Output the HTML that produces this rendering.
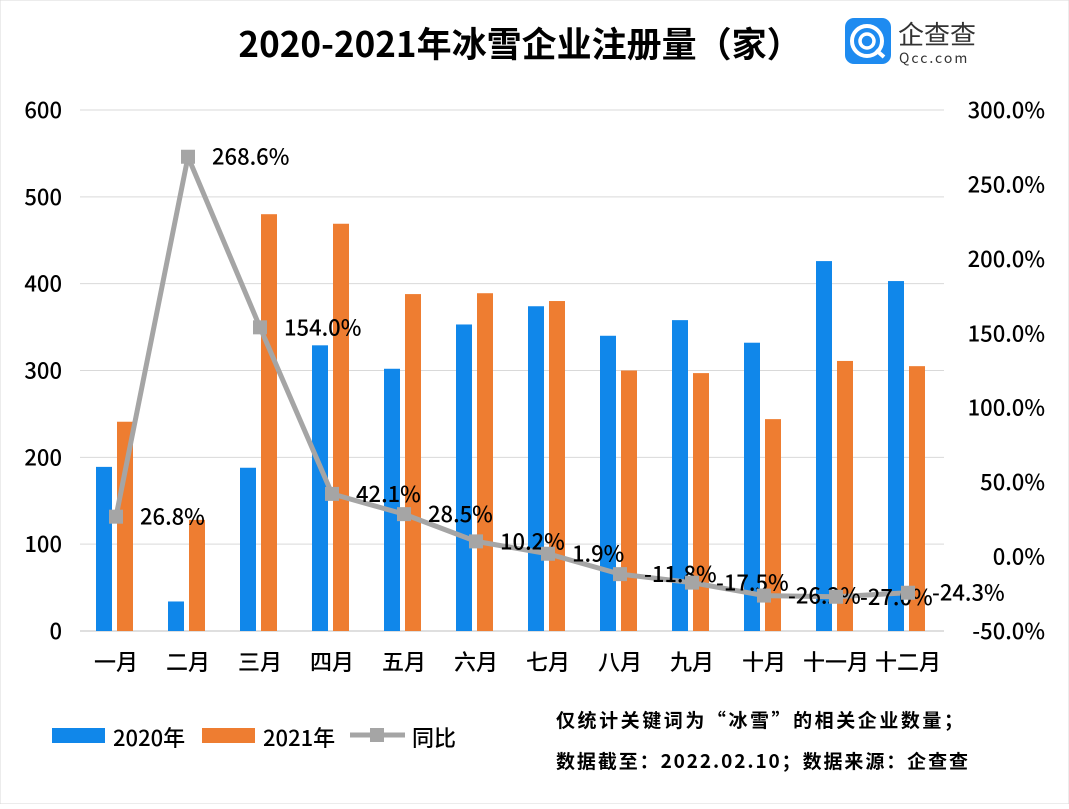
<!DOCTYPE html>
<html><head><meta charset="utf-8"><style>
body{margin:0;background:#fff;width:1069px;height:804px;overflow:hidden;font-family:"Noto Sans CJK SC","Liberation Sans",sans-serif}
svg text{font-family:"Noto Sans CJK SC","Liberation Sans",sans-serif;font-weight:500}
</style></head><body>
<svg id="c" width="1069" height="804">
<rect x="0" y="0" width="1069" height="804" fill="#fff" stroke="#d9d9d9"/>
<text x="520" y="57" font-size="35" style="font-weight:bold" text-anchor="middle" fill="#000">2020-2021年冰雪企业注册量（家）</text>
<g>
<rect x="845" y="18" width="46" height="46" rx="9" fill="#1e8bf0"/>
<circle cx="867" cy="41" r="15" fill="none" stroke="#fff" stroke-width="4"/>
<circle cx="867" cy="41" r="7" fill="none" stroke="#fff" stroke-width="3.5"/>
<line x1="876" y1="50" x2="884" y2="57" stroke="#fff" stroke-width="4"/>
<text x="898" y="44" font-size="26" fill="#333" style="font-weight:400">企查查</text>
<text x="899" y="63" font-size="14" fill="#333" letter-spacing="2" style="font-weight:400">Qcc.com</text>
</g>
<g id="plot"></g>
<g>
<rect x="52" y="728" width="53" height="15" fill="#1087ea"/>
<text x="113" y="746" font-size="22" fill="#000">2020年</text>
<rect x="202" y="728" width="53" height="15" fill="#ee7d31"/>
<text x="263" y="746" font-size="22" fill="#000">2021年</text>
<line x1="350" y1="735" x2="405" y2="735" stroke="#a5a5a5" stroke-width="5"/>
<rect x="370" y="728" width="14" height="14" fill="#a5a5a5"/>
<text x="412" y="746" font-size="22" fill="#000">同比</text>
</g>
<text x="556" y="727" font-size="19" style="font-weight:bold" fill="#000" textLength="407">仅统计关键词为“冰雪”的相关企业数量；</text>
<text x="556" y="768" font-size="19" style="font-weight:bold" fill="#000" textLength="412">数据截至：2022.02.10；数据来源：企查查</text>
</svg>
<script>
const categories=["一月","二月","三月","四月","五月","六月","七月","八月","九月","十月","十一月","十二月"];
const values2020=[189,34,188,329,302,353,374,340,358,332,426,403];
const values2021=[241,128,480,469,388,389,380,300,297,244,311,305];
const yoy=[26.8,268.6,154.0,42.1,28.5,10.2,1.9,-11.8,-17.5,-26.2,-27.0,-24.3];
const leftTicks=[0,100,200,300,400,500,600];
const rightTicks=[-50,0,50,100,150,200,250,300];
const NS="http://www.w3.org/2000/svg";
const g=document.getElementById('plot');
const X0=80,X1=944,Y0=631,Y1=110;
const step=(X1-X0)/categories.length;
const xc=i=>X0+step*(i+0.5);
const yl=v=>Y0-(v/600)*(Y0-Y1);
const yr=v=>Y0-((v+50)/350)*(Y0-Y1);
function el(t,a){const e=document.createElementNS(NS,t);for(const k in a)e.setAttribute(k,a[k]);g.appendChild(e);return e;}
leftTicks.forEach(v=>{
 const gl=el('line',{x1:X0,x2:X1,y1:yl(v),y2:yl(v),stroke:v===0?'#bfbfbf':'#d9d9d9','stroke-width':1});
 
 
 const t=el('text',{x:62,y:yl(v)+8,'font-size':22,'text-anchor':'end',fill:'#000'});t.textContent=v;
 
 
});
rightTicks.forEach(v=>{
 const t=el('text',{x:1045,y:yr(v)+8,'font-size':22,'text-anchor':'end',fill:'#000'});t.textContent=v.toFixed(1)+'%';
 
 
});
categories.forEach((c,i)=>{
 const b1=el('rect',{x:xc(i)-20,y:yl(values2020[i]),width:16,height:Y0-yl(values2020[i]),fill:'#1087ea'});
 
 
 const b2=el('rect',{x:xc(i)+1,y:yl(values2021[i]),width:16,height:Y0-yl(values2021[i]),fill:'#ee7d31'});
 
 
 const t=el('text',{x:xc(i),y:670,'font-size':22,'text-anchor':'middle',fill:'#000'});t.textContent=c;
 
 
});
const pl=el('polyline',{points:yoy.map((v,i)=>xc(i)+','+yr(v)).join(' '),fill:'none',stroke:'#a5a5a5','stroke-width':5,'stroke-linejoin':'round'});


yoy.forEach((v,i)=>{
 const m=el('rect',{x:xc(i)-7,y:yr(v)-7,width:14,height:14,fill:'#a5a5a5'});
 
 
 const t=el('text',{x:xc(i)+24,y:yr(v)+8,'font-size':22,fill:'#000'});t.textContent=v.toFixed(1)+'%';
 
 
});
</script>
</body></html>
